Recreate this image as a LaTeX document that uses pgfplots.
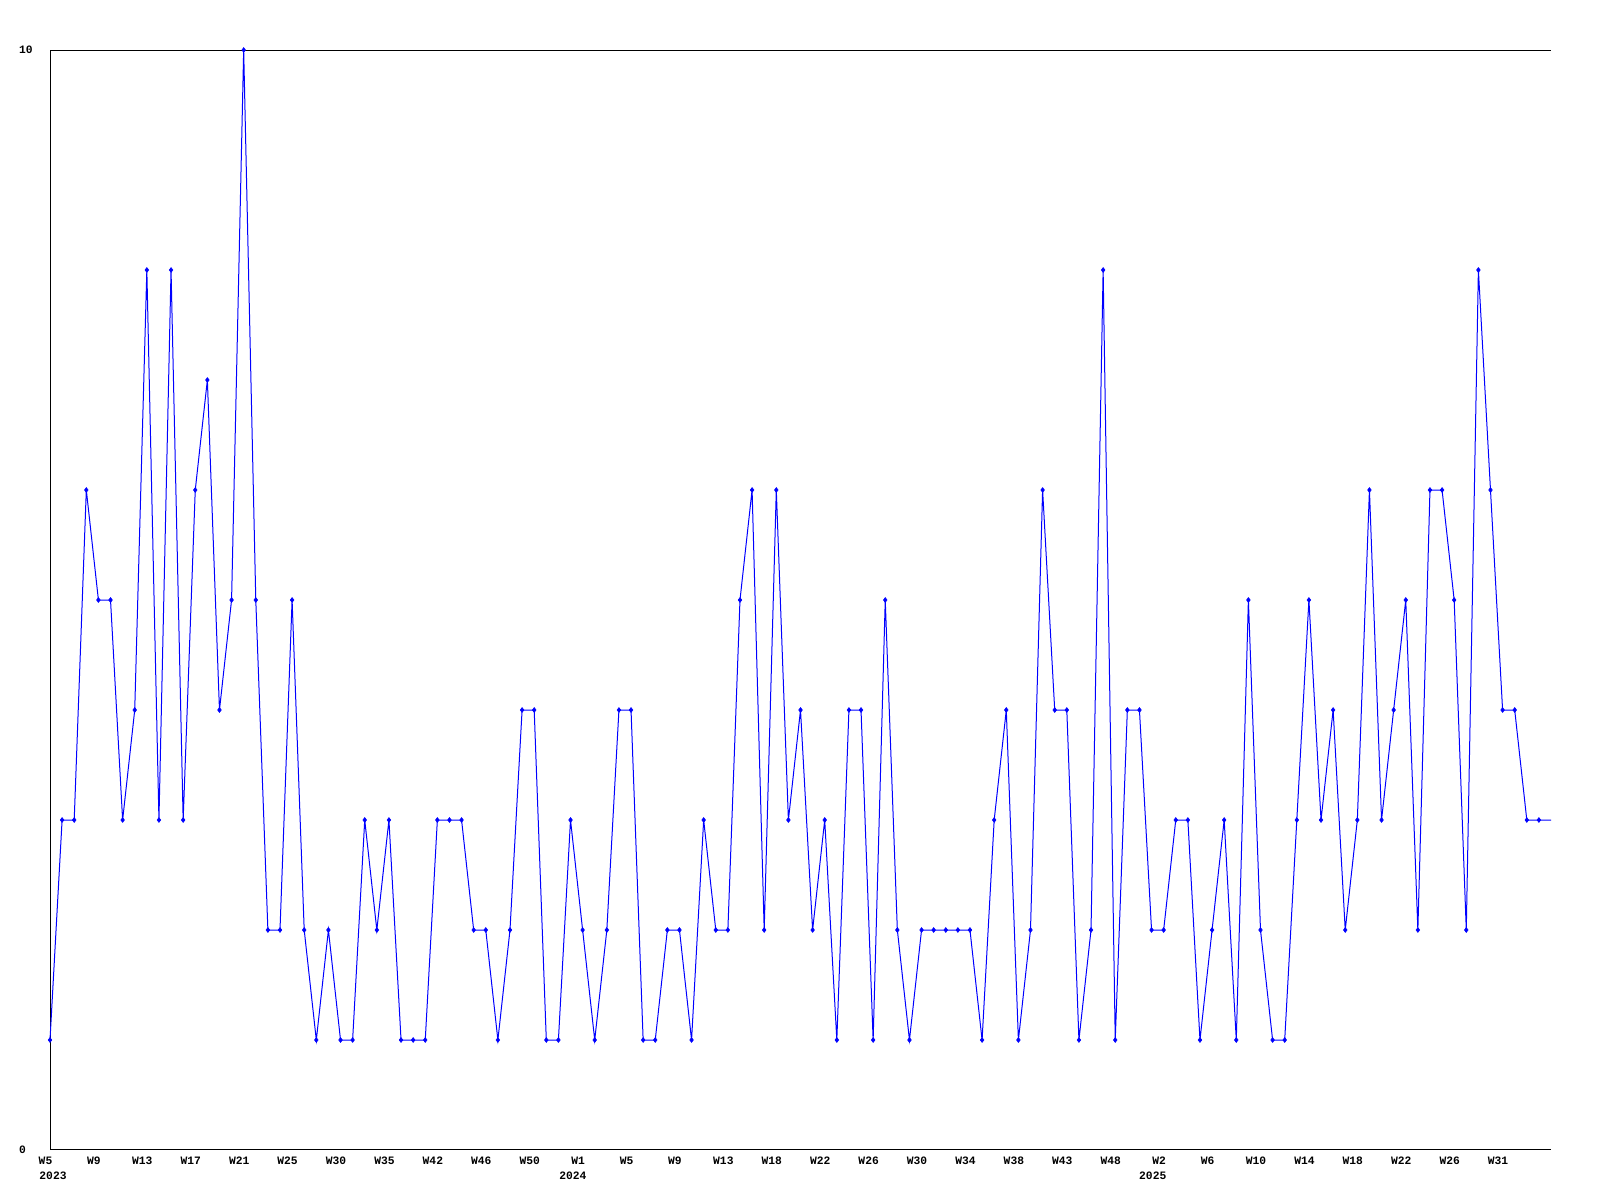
\documentclass[border=0pt]{standalone}
\usepackage{fontspec}
\setmonofont{Liberation Mono}
\usepackage{pgfplots}
\pgfplotsset{compat=1.18}
\definecolor{lineblue}{RGB}{0,0,255}
\pgfplotstableread{
i v
0 1
1 3
2 3
3 6
4 5
5 5
6 3
7 4
8 8
9 3
10 8
11 3
12 6
13 7
14 4
15 5
16 10
17 5
18 2
19 2
20 5
21 2
22 1
23 2
24 1
25 1
26 3
27 2
28 3
29 1
30 1
31 1
32 3
33 3
34 3
35 2
36 2
37 1
38 2
39 4
40 4
41 1
42 1
43 3
44 2
45 1
46 2
47 4
48 4
49 1
50 1
51 2
52 2
53 1
54 3
55 2
56 2
57 5
58 6
59 2
60 6
61 3
62 4
63 2
64 3
65 1
66 4
67 4
68 1
69 5
70 2
71 1
72 2
73 2
74 2
75 2
76 2
77 1
78 3
79 4
80 1
81 2
82 6
83 4
84 4
85 1
86 2
87 8
88 1
89 4
90 4
91 2
92 2
93 3
94 3
95 1
96 2
97 3
98 1
99 5
100 2
101 1
102 1
103 3
104 5
105 3
106 4
107 2
108 3
109 6
110 3
111 4
112 5
113 2
114 6
115 6
116 5
117 2
118 8
119 6
120 4
121 4
122 3
123 3
124 3
}\datatable
\begin{document}
\begin{tikzpicture}
\useasboundingbox (0,0) rectangle (1600bp,1200bp);
\fill[white] (0,0) rectangle (1600bp,1200bp);
\begin{axis}[
  at={(50bp,50bp)}, anchor=south west,
  scale only axis, width=1501bp, height=1100bp,
  xmin=0, xmax=124, ymin=0, ymax=10,
  axis x line*=bottom, axis y line*=left,
  axis line style={black, line width=1bp},
  major tick length=0pt,
  xtick={0,4,...,120},
  xticklabels={W5,W9,W13,W17,W21,W25,W30,W35,W42,W46,W50,W1,W5,W9,W13,W18,W22,W26,W30,W34,W38,W43,W48,W2,W6,W10,W14,W18,W22,W26,W31},
  ytick={0,10},
  yticklabels={0,10},
  ticklabel style={font=\ttfamily\bfseries\fontsize{11.3bp}{13bp}\selectfont, inner sep=0pt},
  xticklabel style={anchor=base, xshift=-4.5bp, yshift=-15bp},
  yticklabel style={anchor=west, xshift=-31bp},
  clip=false,
]
\addplot[color=lineblue, line width=1bp, no marks] table[x=i, y=v] {\datatable};
\addplot[color=lineblue, only marks, mark=diamond*, mark size=2.4bp,
  mark options={solid, fill=lineblue, line width=0.6bp},
  skip coords between index={124}{125}] table[x=i, y=v] {\datatable};
\draw[black, line width=1bp] (rel axis cs:0,1) -- (rel axis cs:1,1);
\node[anchor=base, inner sep=0pt, font=\ttfamily\bfseries\fontsize{11.3bp}{13bp}\selectfont] at (axis cs:0.25,0) [yshift=-30bp] {2023};
\node[anchor=base, inner sep=0pt, font=\ttfamily\bfseries\fontsize{11.3bp}{13bp}\selectfont] at (axis cs:43.2,0) [yshift=-30bp] {2024};
\node[anchor=base, inner sep=0pt, font=\ttfamily\bfseries\fontsize{11.3bp}{13bp}\selectfont] at (axis cs:91.1,0) [yshift=-30bp] {2025};
\end{axis}
\end{tikzpicture}
\end{document}
